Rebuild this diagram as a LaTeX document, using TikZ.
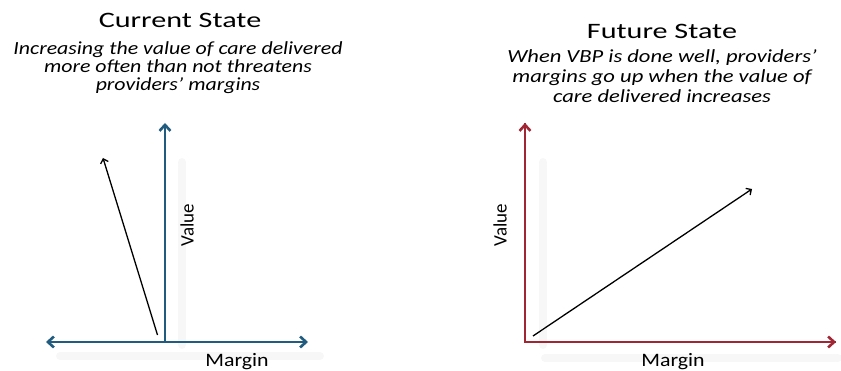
\documentclass[tikz,border=0pt]{standalone}
\usepackage{fontspec}
\setmainfont{Carlito}
\usetikzlibrary{arrows.meta}
\definecolor{axblue}{RGB}{33,92,128}
\definecolor{axred}{RGB}{160,38,52}
\begin{document}
\begin{tikzpicture}[x=1pt,y=-1pt,
  title/.style={font=\fontsize{22}{24}\selectfont, anchor=base, xscale=1.37},
  sub/.style={align=center, anchor=base},
  axlbl/.style={font=\fontsize{19}{20}\selectfont},
  axisline/.style={line width=2.6pt, -{Straight Barb[length=6pt,width=11pt,line width=2.6pt]}},
  trend/.style={line width=1.3pt, black, -{Straight Barb[length=4pt,width=8pt,line width=1.3pt]}},
  shadow/.style={line width=8pt, black!3, line cap=round}]
\useasboundingbox (0,0) rectangle (841,371);
% shadows
\draw[shadow] (182,162) -- (182,345);
\draw[shadow] (60,356) -- (320,356);
\draw[shadow] (543,162) -- (543,345);
\draw[shadow] (545,358) -- (838,358);
% left diagram
\coordinate (lo) at (165,342);
\coordinate (lL) at (46,342);
\coordinate (lR) at (308,342);
\coordinate (lT) at (165,123);
\draw[axisline, axblue] (lo) -- (lL);
\draw[axisline, axblue] (lo) -- (lR);
\draw[axisline, axblue] (lo) -- (lT);
\coordinate (la) at (157.5,335);
\coordinate (lb) at (103,158);
\draw[trend] (la) -- (lb);
\node[axlbl, rotate=90] (lval) at (187,225) {Value};
\node[axlbl, anchor=base, xscale=1.15] (lmar) at (237,366.5) {Margin};
\node[title] (ltitle) at (180,28) {Current State};
\node[sub, font=\fontsize{18.5}{18}\selectfont\itshape, xscale=1.18] (lsub) at (178,91) {Increasing the value of care delivered\\more often than not threatens\\providers’ margins};
% right diagram
\coordinate (ro) at (525,342);
\coordinate (rR) at (836,342);
\coordinate (rT) at (525,123);
\draw[axisline, axred, -] (rT) -- (ro) -- (rR);
\draw[axisline, axred] (ro) -- (rT);
\draw[axisline, axred] (ro) -- (rR);
\coordinate (ra) at (533,336);
\coordinate (rb) at (752,189);
\draw[trend] (ra) -- (rb);
\node[axlbl, rotate=90] (rval) at (500,225) {Value};
\node[axlbl, anchor=base, xscale=1.15] (rmar) at (673,366.5) {Margin};
\node[title] (rtitle) at (662,39) {Future State};
\node[sub, font=\fontsize{18.5}{20}\selectfont\itshape, xscale=1.22] (rsub) at (662,103) {When VBP is done well, providers’\\margins go up when the value of\\care delivered increases};
\end{tikzpicture}
\end{document}
